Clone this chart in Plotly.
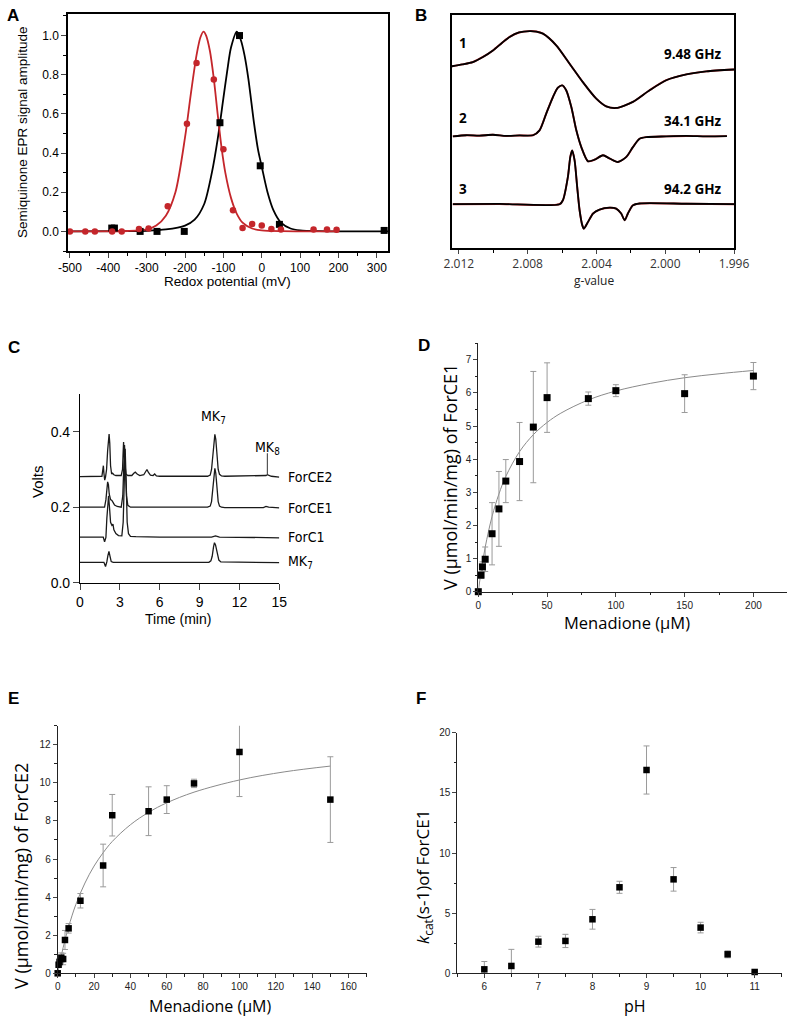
import plotly.graph_objects as go

W, H = 788, 1019

# ---------------- Panel A data ----------------
a_black_x = [-391, -384, -317, -273, -202, -109, -58, -4, 46, 319]
a_black_y = [0.017, 0.017, 0.0, 0.0, 0.0, 0.555, 1.0, 0.335, 0.036, 0.005]
a_red_x = [-500, -460, -435, -390, -365, -320, -295, -245, -195, -170, -125, -100, -75, -50, -25, 0, 25, 50, 135, 170, 195]
a_red_y = [0, 0, 0, 0, 0, 0.012, 0.015, 0.128, 0.55, 0.86, 0.775, 0.42, 0.108, 0.017, 0.038, 0.03, 0.012, 0.01, 0.01, 0.01, 0.008]
a_fitk_x = [-510, -350, -300, -250, -200, -175, -150, -130, -115, -100, -90, -80, -65, -55, -45, -35, -20, -10, 0, 15, 30, 50, 75, 100, 150, 330]
a_fitk_y = [0, 0.001, 0.003, 0.01, 0.03, 0.06, 0.14, 0.3, 0.47, 0.68, 0.82, 0.94, 1.02, 0.98, 0.9, 0.78, 0.55, 0.42, 0.33, 0.2, 0.11, 0.045, 0.015, 0.005, 0.001, 0]
a_fitr_x = [-510, -350, -300, -275, -250, -225, -200, -185, -170, -160, -152, -145, -135, -125, -115, -105, -95, -80, -65, -50, -25, 0, 50, 200]
a_fitr_y = [0, 0.002, 0.01, 0.03, 0.08, 0.2, 0.48, 0.7, 0.9, 0.99, 1.02, 1.0, 0.92, 0.78, 0.6, 0.43, 0.3, 0.17, 0.09, 0.045, 0.015, 0.005, 0.001, 0]
a_xticks = [-500, -400, -300, -200, -100, 0, 100, 200, 300]
a_xticktext = ["-500", "-400", "-300", "-200", "-100", "0", "100", "200", "300"]

# ---------------- Panel B data ----------------
b1_g = [2.01241, 2.01180, 2.01119, 2.01060, 2.01002, 2.00950, 2.00905, 2.00850, 2.00789, 2.00750, 2.00711, 2.00634, 2.00556, 2.00479, 2.00401, 2.00343, 2.00285, 2.00188, 2.00091, 1.99994, 1.99877, 1.99761, 1.99600]
b1_y = [78.0, 78.8, 79.8, 82.0, 84.8, 88.0, 90.6, 92.5, 93.1, 92.9, 92.0, 87.0, 79.1, 71.2, 64.1, 60.8, 60.1, 62.7, 67.7, 72.0, 74.5, 75.8, 76.6]
b2_g = [2.01235, 2.01157, 2.01080, 2.01002, 2.00925, 2.00847, 2.00769, 2.00731, 2.00692, 2.00653, 2.00624, 2.00599, 2.00576, 2.00546, 2.00517, 2.00488, 2.00449, 2.00411, 2.00362, 2.00323, 2.00275, 2.00226, 2.00188, 2.00149, 2.00110, 1.99994, 1.99877, 1.99761, 1.99641]
b2_y = [47.9, 48.4, 48.2, 48.6, 48.1, 48.3, 48.4, 50.5, 57.7, 64.8, 68.8, 69.8, 67.7, 60.5, 50.5, 43.3, 37.2, 37.9, 39.8, 38.4, 36.9, 39.1, 43.3, 46.9, 47.6, 47.9, 48.1, 47.9, 48.0]
b3_g = [2.01235, 2.00963, 2.00614, 2.00595, 2.00566, 2.00552, 2.00541, 2.00527, 2.00512, 2.00498, 2.00482, 2.00473, 2.00449, 2.00420, 2.00382, 2.00323, 2.00285, 2.00256, 2.00236, 2.00217, 2.00188, 2.00149, 1.99877, 1.99600]
b3_y = [18.8, 18.9, 18.8, 20.5, 30.5, 39.1, 41.9, 37.6, 26.2, 16.2, 9.7, 8.3, 11.2, 14.8, 16.5, 17.3, 16.9, 14.8, 11.9, 14.8, 18.3, 19.1, 19.0, 18.8]
b_numbers = ["1", "2", "3"]
b_freqs = ["9.48 GHz", "34.1 GHz", "94.2 GHz"]
b_xticks = [2.012, 2.008, 2.004, 2.000, 1.996]
b_xticktext = ["2.012", "2.008", "2.004", "2.000", "1.996"]

# ---------------- Panel C data ----------------
c_ce2_t = [0, 1.65, 1.72, 1.76, 1.8, 1.86, 1.92, 2.0, 2.08, 2.14, 2.19, 2.24, 2.3, 2.38, 2.45, 2.55, 2.7, 3.1, 3.2, 3.24, 3.28, 3.32, 3.38, 3.45, 3.6, 3.9, 4.05, 4.16, 4.3, 4.5, 4.8, 4.95, 5.04, 5.15, 5.3, 5.5, 5.62, 5.75, 6.0, 9.6, 9.8, 9.9, 10.0, 10.08, 10.15, 10.22, 10.3, 10.4, 10.5, 10.65, 10.9, 13.8, 14.0, 14.1, 14.2, 14.4, 15]
c_ce2_v = [0.281, 0.282, 0.3, 0.31, 0.29, 0.272, 0.28, 0.3, 0.35, 0.385, 0.394, 0.37, 0.31, 0.288, 0.29, 0.286, 0.284, 0.284, 0.3, 0.34, 0.373, 0.34, 0.3, 0.288, 0.284, 0.284, 0.29, 0.293, 0.288, 0.284, 0.286, 0.295, 0.3, 0.292, 0.285, 0.284, 0.288, 0.283, 0.282, 0.282, 0.285, 0.3, 0.34, 0.38, 0.393, 0.38, 0.34, 0.3, 0.287, 0.283, 0.282, 0.282, 0.284, 0.286, 0.285, 0.282, 0.28]
c_ce1_t = [0, 1.85, 1.95, 2.02, 2.08, 2.14, 2.2, 2.3, 2.4, 2.5, 2.6, 2.8, 3.1, 3.22, 3.28, 3.35, 3.42, 3.5, 3.6, 3.8, 9.6, 9.8, 9.9, 10.0, 10.08, 10.15, 10.22, 10.3, 10.4, 10.5, 10.65, 10.9, 13.8, 14.0, 14.2, 15]
c_ce1_v = [0.2, 0.2, 0.22, 0.255, 0.267, 0.26, 0.235, 0.22, 0.218, 0.212, 0.206, 0.202, 0.2, 0.23, 0.3, 0.365, 0.3, 0.23, 0.205, 0.2, 0.2, 0.203, 0.215, 0.25, 0.29, 0.303, 0.29, 0.25, 0.215, 0.203, 0.2, 0.199, 0.199, 0.202, 0.2, 0.198]
c_c1_t = [0, 1.75, 1.85, 1.95, 2.02, 2.1, 2.15, 2.22, 2.3, 2.4, 2.48, 2.55, 2.7, 2.9, 3.15, 3.25, 3.32, 3.4, 3.48, 3.55, 3.65, 3.8, 4.2, 6.0, 9.9, 10.2, 10.5, 15]
c_c1_v = [0.121, 0.121, 0.108, 0.12, 0.17, 0.225, 0.23, 0.2, 0.16, 0.152, 0.155, 0.14, 0.13, 0.125, 0.124, 0.16, 0.27, 0.355, 0.26, 0.16, 0.13, 0.123, 0.122, 0.121, 0.121, 0.124, 0.121, 0.119]
c_mk7_t = [0, 1.8, 1.92, 2.02, 2.1, 2.18, 2.26, 2.35, 2.5, 9.7, 9.85, 9.95, 10.05, 10.12, 10.2, 10.3, 10.45, 10.6, 15]
c_mk7_v = [0.054, 0.054, 0.043, 0.055, 0.072, 0.083, 0.07, 0.056, 0.054, 0.054, 0.058, 0.07, 0.095, 0.106, 0.1, 0.08, 0.06, 0.055, 0.053]
c_names = ["ForCE2", "ForCE1", "ForC1", "MK<sub>7</sub>"]
c_mk8_t = 14.1
c_mk8_v = [0.288, 0.343]

# ---------------- Panel D data ----------------
d_x = [0, 2, 3, 5, 10, 15, 20, 30, 40, 50, 80, 100, 150, 200]
d_y = [0, 0.5, 0.75, 0.98, 1.75, 2.5, 3.34, 3.93, 4.97, 5.86, 5.83, 6.07, 5.98, 6.51]
d_err = [0, 0.1, 0.15, 0.37, 0.94, 1.13, 0.65, 1.18, 1.68, 1.05, 0.2, 0.18, 0.57, 0.41]
d_fit_x = [0, 2, 5, 10, 15, 20, 30, 40, 50, 60, 80, 100, 125, 150, 175, 200]
d_fit_y = [0, 0.6, 1.34, 2.27, 2.95, 3.48, 4.23, 4.74, 5.11, 5.39, 5.79, 6.06, 6.29, 6.46, 6.58, 6.68]

# ---------------- Panel E data ----------------
e_x = [0, 0.5, 1, 2, 3, 4, 6, 12.5, 25, 30, 50, 60, 75, 100, 150]
e_y = [0, 0.45, 0.6, 0.82, 0.75, 1.75, 2.36, 3.81, 5.66, 8.3, 8.51, 9.12, 9.97, 11.62, 9.12]
e_err = [0, 0.15, 0.2, 0.25, 0.3, 0.5, 0.25, 0.38, 1.12, 1.09, 1.28, 0.73, 0.22, 2.34, 2.25]
e_fit_x = [0, 2, 4, 6, 10, 15, 20, 25, 30, 40, 50, 60, 75, 100, 125, 150]
e_fit_y = [0, 0.93, 1.74, 2.44, 3.62, 4.74, 5.63, 6.33, 6.92, 7.8, 8.45, 8.95, 9.51, 10.15, 10.58, 10.88]

# ---------------- Panel F data ----------------
f_x = [6, 6.5, 7, 7.5, 8, 8.5, 9, 9.5, 10, 10.5, 11]
f_y = [0.33, 0.61, 2.63, 2.69, 4.49, 7.15, 16.9, 7.81, 3.8, 1.58, 0.11]
f_err = [0.65, 1.38, 0.45, 0.55, 0.82, 0.5, 2.0, 0.98, 0.44, 0.29, 0.05]

panel_letters = ["A", "B", "C", "D", "E", "F"]

# ---------------- helpers ----------------
def xd(a, b):
    return [a / W, b / W]

def yd(top, bottom):
    return [1 - bottom / H, 1 - top / H]

def px(x):
    return x / W

def py(y):
    return 1 - y / H

ARIAL = "Liberation Sans, Arial, sans-serif"
NARROW = "Liberation Sans Narrow, Arial Narrow, DejaVu Sans Condensed, sans-serif"
SANS = "Open Sans, Noto Sans, sans-serif"
RED = "#c4262b"

fig = go.Figure()

# ---- Panel A traces ----
fig.add_trace(go.Scatter(x=a_fitk_x, y=a_fitk_y, mode="lines", line=dict(color="black", width=1.8, shape="spline", smoothing=0.8), xaxis="x", yaxis="y", showlegend=False))
fig.add_trace(go.Scatter(x=a_fitr_x, y=a_fitr_y, mode="lines", line=dict(color=RED, width=1.8, shape="spline", smoothing=0.8), xaxis="x", yaxis="y", showlegend=False))
fig.add_trace(go.Scatter(x=a_black_x, y=a_black_y, mode="markers", marker=dict(symbol="square", size=7, color="black"), xaxis="x", yaxis="y", showlegend=False, cliponaxis=False))
fig.add_trace(go.Scatter(x=a_red_x, y=a_red_y, mode="markers", marker=dict(symbol="circle", size=6.5, color=RED), xaxis="x", yaxis="y", showlegend=False, cliponaxis=False))

# ---- Panel B traces ----
for gx, gy in [(b1_g, b1_y), (b2_g, b2_y), (b3_g, b3_y)]:
    fig.add_trace(go.Scatter(x=gx, y=gy, mode="lines", line=dict(color=RED, width=1.9, shape="spline", smoothing=0.7), xaxis="x2", yaxis="y2", showlegend=False))
    fig.add_trace(go.Scatter(x=gx, y=gy, mode="lines", line=dict(color="black", width=1.8, shape="spline", smoothing=0.7), xaxis="x2", yaxis="y2", showlegend=False))

# ---- Panel C traces ----
for ct, cv in [(c_ce2_t, c_ce2_v), (c_ce1_t, c_ce1_v), (c_c1_t, c_c1_v), (c_mk7_t, c_mk7_v)]:
    fig.add_trace(go.Scatter(x=ct, y=cv, mode="lines", line=dict(color="#1a1a1a", width=1.3), xaxis="x3", yaxis="y3", showlegend=False, cliponaxis=False))
fig.add_trace(go.Scatter(x=[c_mk8_t, c_mk8_t], y=c_mk8_v, mode="lines", line=dict(color="#333", width=1), xaxis="x3", yaxis="y3", showlegend=False))

# ---- Panel D traces ----
fig.add_trace(go.Scatter(x=d_fit_x, y=d_fit_y, mode="lines", line=dict(color="#8a8a8a", width=1, shape="spline"), xaxis="x4", yaxis="y4", showlegend=False))
fig.add_trace(go.Scatter(x=d_x, y=d_y, mode="markers", marker=dict(symbol="square", size=7, color="black"),
                         error_y=dict(type="data", array=d_err, color="#9a9a9a", thickness=1, width=3),
                         xaxis="x4", yaxis="y4", showlegend=False, cliponaxis=False))

# ---- Panel E traces ----
fig.add_trace(go.Scatter(x=e_fit_x, y=e_fit_y, mode="lines", line=dict(color="#8a8a8a", width=1, shape="spline"), xaxis="x5", yaxis="y5", showlegend=False))
fig.add_trace(go.Scatter(x=e_x, y=e_y, mode="markers", marker=dict(symbol="square", size=6.5, color="black"),
                         error_y=dict(type="data", array=e_err, color="#9a9a9a", thickness=1, width=3),
                         xaxis="x5", yaxis="y5", showlegend=False, cliponaxis=False))

# ---- Panel F traces ----
fig.add_trace(go.Scatter(x=f_x, y=f_y, mode="markers", marker=dict(symbol="square", size=6.5, color="black"),
                         error_y=dict(type="data", array=f_err, color="#9a9a9a", thickness=1, width=3),
                         xaxis="x6", yaxis="y6", showlegend=False, cliponaxis=False))

# ---- axes ----
boxline = dict(showline=True, linecolor="black", linewidth=1.5, mirror=True, showgrid=False, zeroline=False, automargin=False)
plain = dict(showgrid=False, zeroline=False, automargin=False)
tf_a = dict(family=ARIAL, size=12, color="black")
tf_c = dict(family=ARIAL, size=14, color="black")
tf_s = dict(family=ARIAL, size=10, color="#222")

layout_axes = dict(
    xaxis=dict(domain=xd(68, 388), range=[-505, 329], anchor="y", tickmode="array", tickvals=a_xticks, ticktext=a_xticktext,
               ticks="outside", ticklen=5, tickwidth=1.2, tickfont=tf_a,
               minor=dict(ticks="outside", ticklen=3, dtick=50, tick0=0, tickcolor="black"), **boxline),
    yaxis=dict(domain=yd(14, 251), range=[-0.1, 1.11], anchor="x", dtick=0.2, tick0=0, tickformat=".1f",
               ticks="outside", ticklen=5, tickwidth=1.2, tickfont=tf_a,
               minor=dict(ticks="outside", ticklen=3, dtick=0.1, tick0=0, tickcolor="black"), **boxline),
    xaxis2=dict(domain=xd(452, 734), range=[2.0124, 1.996], anchor="y2", tickmode="array", tickvals=b_xticks, ticktext=b_xticktext,
                ticks="outside", ticklen=4, tickwidth=1.2, tickfont=dict(family=SANS, size=12, color="#333"),
                minor=dict(ticks="outside", ticklen=3, tickvals=[2.010, 2.006, 2.002, 1.998], tickcolor="black"), **boxline),
    yaxis2=dict(domain=yd(15, 248), range=[0, 100], anchor="x2", showticklabels=False, ticks="", **boxline),
    xaxis3=dict(domain=xd(80, 279.3), range=[0, 15], anchor="y3", dtick=3, tick0=0, ticks="outside", ticklen=6, tickwidth=1.2,
                tickfont=tf_c, showline=True, linecolor="black", linewidth=1.2, **plain),
    yaxis3=dict(domain=yd(394, 582.7), range=[0, 0.5], anchor="x3", tickmode="array", tickvals=[0, 0.2, 0.4],
                ticktext=["0.0", "0.2", "0.4"], ticks="outside", ticklen=6, tickwidth=1.2,
                tickfont=tf_c, showline=True, linecolor="black", linewidth=1.2, **plain),
    xaxis4=dict(domain=xd(478.3, 786.7), range=[0, 224.2], anchor="y4", dtick=50, tick0=0, ticks="outside", ticklen=4,
                tickfont=tf_s, showline=True, linecolor="#222", linewidth=1,
                minor=dict(ticks="outside", ticklen=2.5, dtick=25, tick0=0, tickcolor="#222"), **plain),
    yaxis4=dict(domain=yd(343.3, 591.7), range=[0, 7.5], anchor="x4", dtick=1, tick0=0, ticks="outside", ticklen=4,
                tickfont=tf_s, showline=True, linecolor="#222", linewidth=1,
                minor=dict(ticks="outside", ticklen=2.5, dtick=0.5, tick0=0, tickcolor="#222"), **plain),
    xaxis5=dict(domain=xd(57.7, 366.7), range=[0, 170], anchor="y5", dtick=20, tick0=0, ticks="outside", ticklen=4,
                tickfont=tf_s, showline=True, linecolor="#222", linewidth=1,
                minor=dict(ticks="outside", ticklen=2.5, dtick=10, tick0=0, tickcolor="#222"), **plain),
    yaxis5=dict(domain=yd(725.7, 973.3), range=[0, 13], anchor="x5", dtick=2, tick0=0, ticks="outside", ticklen=4,
                tickfont=tf_s, showline=True, linecolor="#222", linewidth=1,
                minor=dict(ticks="outside", ticklen=2.5, dtick=1, tick0=0, tickcolor="#222"), **plain),
    xaxis6=dict(domain=xd(457.3, 781.7), range=[5.5, 11.5], anchor="y6", dtick=1, tick0=6, ticks="outside", ticklen=4,
                tickfont=tf_s, showline=True, linecolor="#222", linewidth=1,
                minor=dict(ticks="outside", ticklen=2.5, dtick=0.5, tick0=0, tickcolor="#222"), **plain),
    yaxis6=dict(domain=yd(732.7, 973.3), range=[0, 20], anchor="x6", dtick=5, tick0=0, ticks="outside", ticklen=4,
                tickfont=tf_s, showline=True, linecolor="#222", linewidth=1,
                minor=dict(ticks="outside", ticklen=2.5, dtick=2.5, tick0=0, tickcolor="#222"), **plain),
)

ann = []
def text(x, y, s, size, family, color="black", xanchor="center", yanchor="middle", angle=0, bold=False):
    ann.append(dict(x=px(x), y=py(y), xref="paper", yref="paper", text=(f"<b>{s}</b>" if bold else s), showarrow=False,
                    font=dict(size=size, family=family, color=color), xanchor=xanchor, yanchor=yanchor, textangle=angle))

# panel letters
for L, (lx, ly) in zip(panel_letters, [(13, 15), (421, 15), (14, 347), (424, 346), (13, 698), (421, 698)]):
    text(lx, ly, L, 17, ARIAL, bold=True)

# A titles
text(228, 281, "Redox potential (mV)", 13.5, ARIAL)
text(23, 132, "Semiquinone EPR signal amplitude", 13.5, ARIAL, angle=-90)

# B labels
for s, (lx, ly) in zip(b_numbers, [(463, 43), (463, 118), (463, 189)]):
    text(lx, ly, s, 13.5, SANS, bold=True)
for s, (lx, ly) in zip(b_freqs, [(724, 54), (724, 121), (724, 189)]):
    text(lx, ly, s, 13.5, SANS, xanchor="right", bold=True)
text(594, 280, "g-value", 12, SANS, color="#222")

# C labels
text(37, 482, "Volts", 15, ARIAL, angle=-90)
text(178, 619, "Time (min)", 14, ARIAL)
for s, ly in zip(c_names, [476.7, 507.7, 536.7, 561.7]):
    text(286, ly, s, 14, NARROW, xanchor="left")
text(213, 417, "MK<sub>7</sub>", 14, NARROW)
text(267, 448, "MK<sub>8</sub>", 14, NARROW)

# D, E, F titles
text(450, 477, "V (µmol/min/mg) of ForCE1", 18, SANS, angle=-90)
text(627, 622, "Menadione (µM)", 16.5, SANS)
text(21, 876, "V (µmol/min/mg) of ForCE2", 18, SANS, angle=-90)
text(210, 1006, "Menadione (µM)", 16, SANS)
text(423, 877, "<i>k</i><sub>cat</sub>(s-1)of ForCE1", 17, SANS, angle=-90)
text(635, 1006, "pH", 16, SANS)

fig.update_layout(width=W, height=H, margin=dict(l=0, r=0, t=0, b=0), paper_bgcolor="white", plot_bgcolor="white",
                  annotations=ann, **layout_axes)

fig.write_html("out.html", config={"displayModeBar": False},
               post_script="document.body.style.margin='0px';document.body.style.padding='0px';")
